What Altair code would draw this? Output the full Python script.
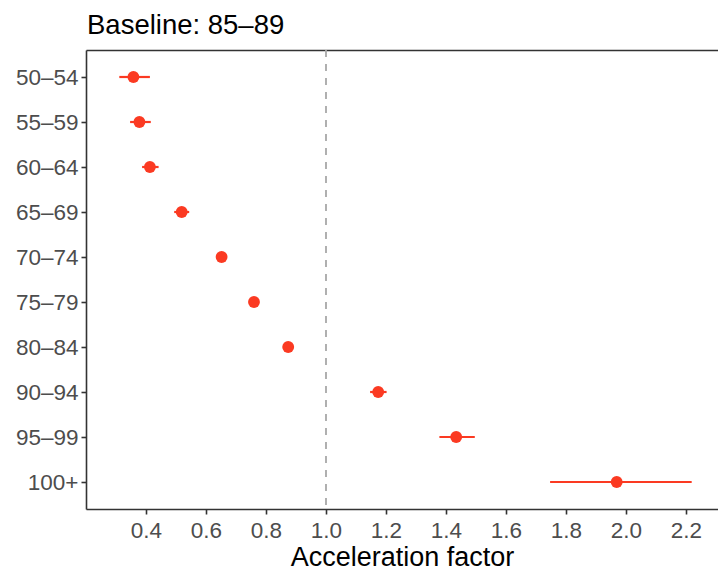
import altair as alt
import pandas as pd

ages = ["50–54", "55–59", "60–64", "65–69", "70–74", "75–79", "80–84", "90–94", "95–99", "100+"]
est = [0.358, 0.378, 0.413, 0.519, 0.652, 0.760, 0.874, 1.174, 1.434, 1.969]
low = [0.311, 0.347, 0.387, 0.494, 0.640, 0.750, 0.866, 1.147, 1.378, 1.747]
high = [0.413, 0.416, 0.442, 0.544, 0.664, 0.770, 0.882, 1.202, 1.496, 2.219]
x_ticks = [0.4, 0.6, 0.8, 1.0, 1.2, 1.4, 1.6, 1.8, 2.0, 2.2]
baseline_value = [1.0]

df = pd.DataFrame({"age": ages, "est": est, "low": low, "high": high})
ref = pd.DataFrame({"v": baseline_value})

RED = "#FB3A22"
FONT = "Liberation Sans"

xscale = alt.Scale(domain=[0.2, 2.3067], nice=False, zero=False)
yscale = alt.Scale(type="point", padding=0.6)

x_axis = alt.Axis(values=x_ticks, format=".1f", title="Acceleration factor", grid=False,
                  orient="bottom", labelPadding=5, titlePadding=2.5, titleFontSize=27)
y_axis = alt.Axis(title=None, grid=False, labelPadding=3)

bars = alt.Chart(df).mark_rule(color=RED, strokeWidth=2.2).encode(
    x=alt.X("low:Q", scale=xscale, axis=x_axis),
    x2="high:Q",
    y=alt.Y("age:N", sort=ages, scale=yscale, axis=y_axis),
)

pts = alt.Chart(df).mark_circle(color=RED, size=140, opacity=1).encode(
    x=alt.X("est:Q", scale=xscale, axis=None),
    y=alt.Y("age:N", sort=ages, scale=yscale, axis=y_axis),
)

vline = alt.Chart(ref).mark_rule(color="#A8A8A8", strokeWidth=1.8, strokeDash=[7, 7]).encode(
    x=alt.X("v:Q", scale=xscale,
            axis=alt.Axis(orient="top", labels=False, ticks=False, title=None, grid=False,
                          domain=True)),
)

chart = alt.layer(vline, bars, pts).resolve_axis(x="independent").properties(
    width=632,
    height=459,
    autosize="none",
    padding={"left": 78, "top": 42, "right": 0, "bottom": 57},
    title=alt.TitleParams("Baseline: 85–89", anchor="start", frame="group", fontSize=27.5,
                          font=FONT, fontWeight="normal", color="black", offset=10, dx=1),
).configure_view(stroke=None).configure_axis(
    labelFont=FONT, labelFontSize=22.5, labelColor="#4D4D4D",
    titleFont=FONT, titleFontSize=27.5, titleColor="black", titleFontWeight="normal",
    domainColor="#333333", domainWidth=1.6, tickColor="#333333", tickWidth=1.6,
    tickSize=5,
)

chart.save("out.html", embed_options={"renderer": "svg", "actions": False})
